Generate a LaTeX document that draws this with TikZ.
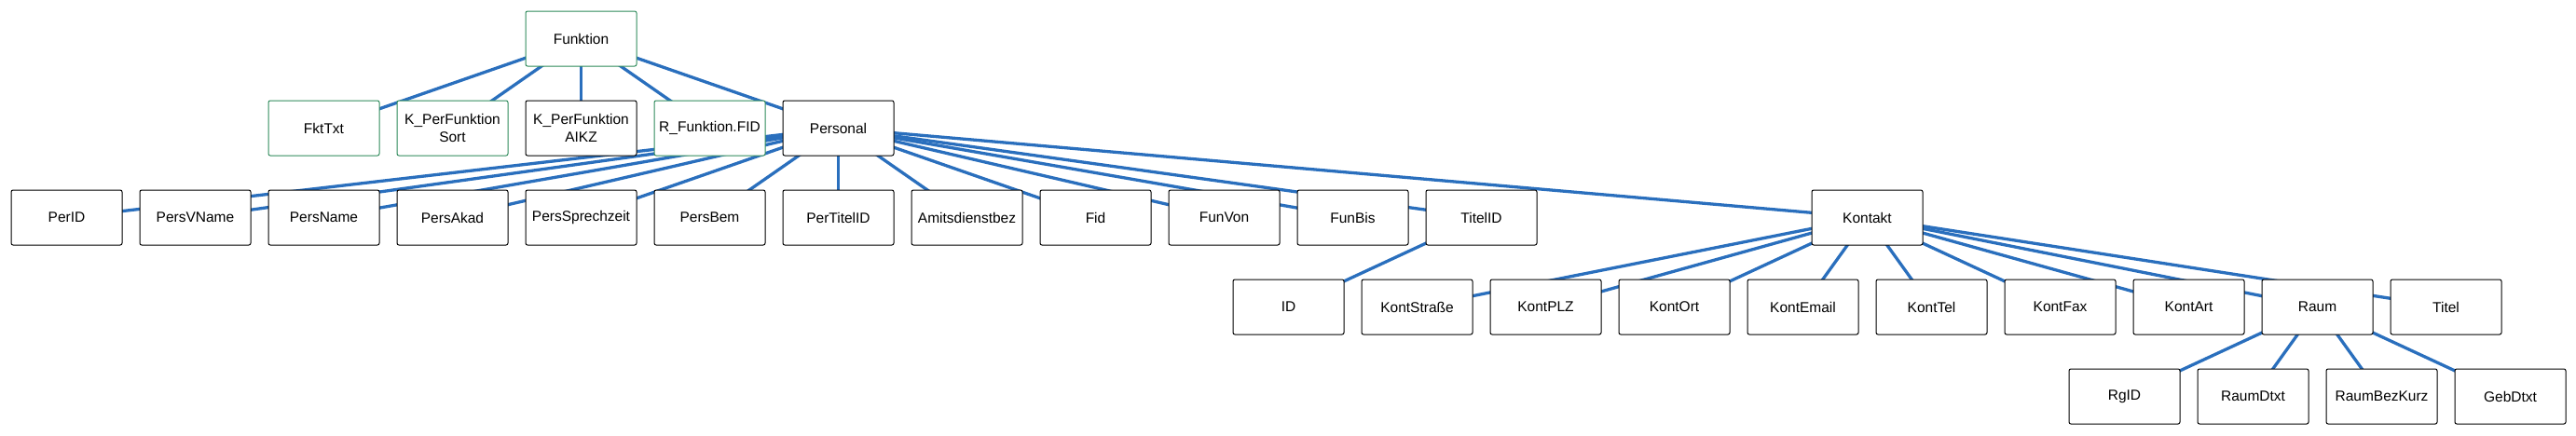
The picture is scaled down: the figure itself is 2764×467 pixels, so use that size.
\documentclass[tikz,border=0pt]{standalone}
\usepackage{fontspec}
\setmainfont{Liberation Sans}
\usetikzlibrary{backgrounds}
\definecolor{edgeblue}{HTML}{2A6FBD}
\definecolor{boxgreen}{HTML}{2E8A5A}
\tikzset{
  tbl/.style={draw=black, fill=white, rounded corners=2pt, line width=1pt,
    minimum width=119pt, minimum height=59pt, inner sep=0pt, align=center,
    font=\fontsize{15.5pt}{18.5pt}\selectfont},
  grn/.style={tbl, draw=boxgreen},
  link/.style={draw=edgeblue, line width=3.3pt}
}
\newcommand{\cx}[1]{71.5+138*#1}
\newcommand{\cy}[1]{41.5+96*#1}
\begin{document}
\begin{tikzpicture}[x=1pt, y=-1pt]
\useasboundingbox (0,0) rectangle (2764,467);
% row 0
\node[grn] (funktion) at ({\cx{4}},{\cy{0}}) {Funktion};
% row 1
\node[grn] (fkttxt) at ({\cx{2}},{\cy{1}}) {FktTxt};
\node[grn] (ksort) at ({\cx{3}},{\cy{1}}) {K\_PerFunktion\\Sort};
\node[tbl] (kaikz) at ({\cx{4}},{\cy{1}}) {K\_PerFunktion\\AIKZ};
\node[grn] (rfid) at ({\cx{5}},{\cy{1}}) {R\_Funktion.FID};
\node[tbl] (personal) at ({\cx{6}},{\cy{1}}) {Personal};
% row 2
\node[tbl] (perid) at ({\cx{0}},{\cy{2}}) {PerID};
\node[tbl] (persvname) at ({\cx{1}},{\cy{2}}) {PersVName};
\node[tbl] (persname) at ({\cx{2}},{\cy{2}}) {PersName};
\node[tbl] (persakad) at ({\cx{3}},{\cy{2}}) {PersAkad};
\node[tbl] (perssprech) at ({\cx{4}},{\cy{2}}) {PersSprechzeit};
\node[tbl] (persbem) at ({\cx{5}},{\cy{2}}) {PersBem};
\node[tbl] (pertitelid) at ({\cx{6}},{\cy{2}}) {PerTitelID};
\node[tbl] (amits) at ({\cx{7}},{\cy{2}}) {Amitsdienstbez};
\node[tbl] (fid) at ({\cx{8}},{\cy{2}}) {Fid};
\node[tbl] (funvon) at ({\cx{9}},{\cy{2}}) {FunVon};
\node[tbl] (funbis) at ({\cx{10}},{\cy{2}}) {FunBis};
\node[tbl] (titelid) at ({\cx{11}},{\cy{2}}) {TitelID};
\node[tbl] (kontakt) at ({\cx{14}},{\cy{2}}) {Kontakt};
% row 3
\node[tbl] (id) at ({\cx{9.5}},{\cy{3}}) {ID};
\node[tbl] (kontstrasse) at ({\cx{10.5}},{\cy{3}}) {KontStraße};
\node[tbl] (kontplz) at ({\cx{11.5}},{\cy{3}}) {KontPLZ};
\node[tbl] (kontort) at ({\cx{12.5}},{\cy{3}}) {KontOrt};
\node[tbl] (kontemail) at ({\cx{13.5}},{\cy{3}}) {KontEmail};
\node[tbl] (konttel) at ({\cx{14.5}},{\cy{3}}) {KontTel};
\node[tbl] (kontfax) at ({\cx{15.5}},{\cy{3}}) {KontFax};
\node[tbl] (kontart) at ({\cx{16.5}},{\cy{3}}) {KontArt};
\node[tbl] (raum) at ({\cx{17.5}},{\cy{3}}) {Raum};
\node[tbl] (titel) at ({\cx{18.5}},{\cy{3}}) {Titel};
% row 4
\node[tbl] (rgid) at ({\cx{16}},{\cy{4}}) {RgID};
\node[tbl] (raumdtxt) at ({\cx{17}},{\cy{4}}) {RaumDtxt};
\node[tbl] (raumbez) at ({\cx{18}},{\cy{4}}) {RaumBezKurz};
\node[tbl] (gebdtxt) at ({\cx{19}},{\cy{4}}) {GebDtxt};
% connectors
\begin{scope}[on background layer]
\foreach \c in {fkttxt,ksort,kaikz,rfid,personal}
  \draw[link] (funktion.center) -- (\c.center);
\foreach \c in {perid,persvname,persname,persakad,perssprech,persbem,pertitelid,amits,fid,funvon,funbis,titelid,kontakt}
  \draw[link] (personal.center) -- (\c.center);
\draw[link] (titelid.center) -- (id.center);
\foreach \c in {kontstrasse,kontplz,kontort,kontemail,konttel,kontfax,kontart,raum,titel}
  \draw[link] (kontakt.center) -- (\c.center);
\foreach \c in {rgid,raumdtxt,raumbez,gebdtxt}
  \draw[link] (raum.center) -- (\c.center);
\end{scope}
\end{tikzpicture}
\end{document}
